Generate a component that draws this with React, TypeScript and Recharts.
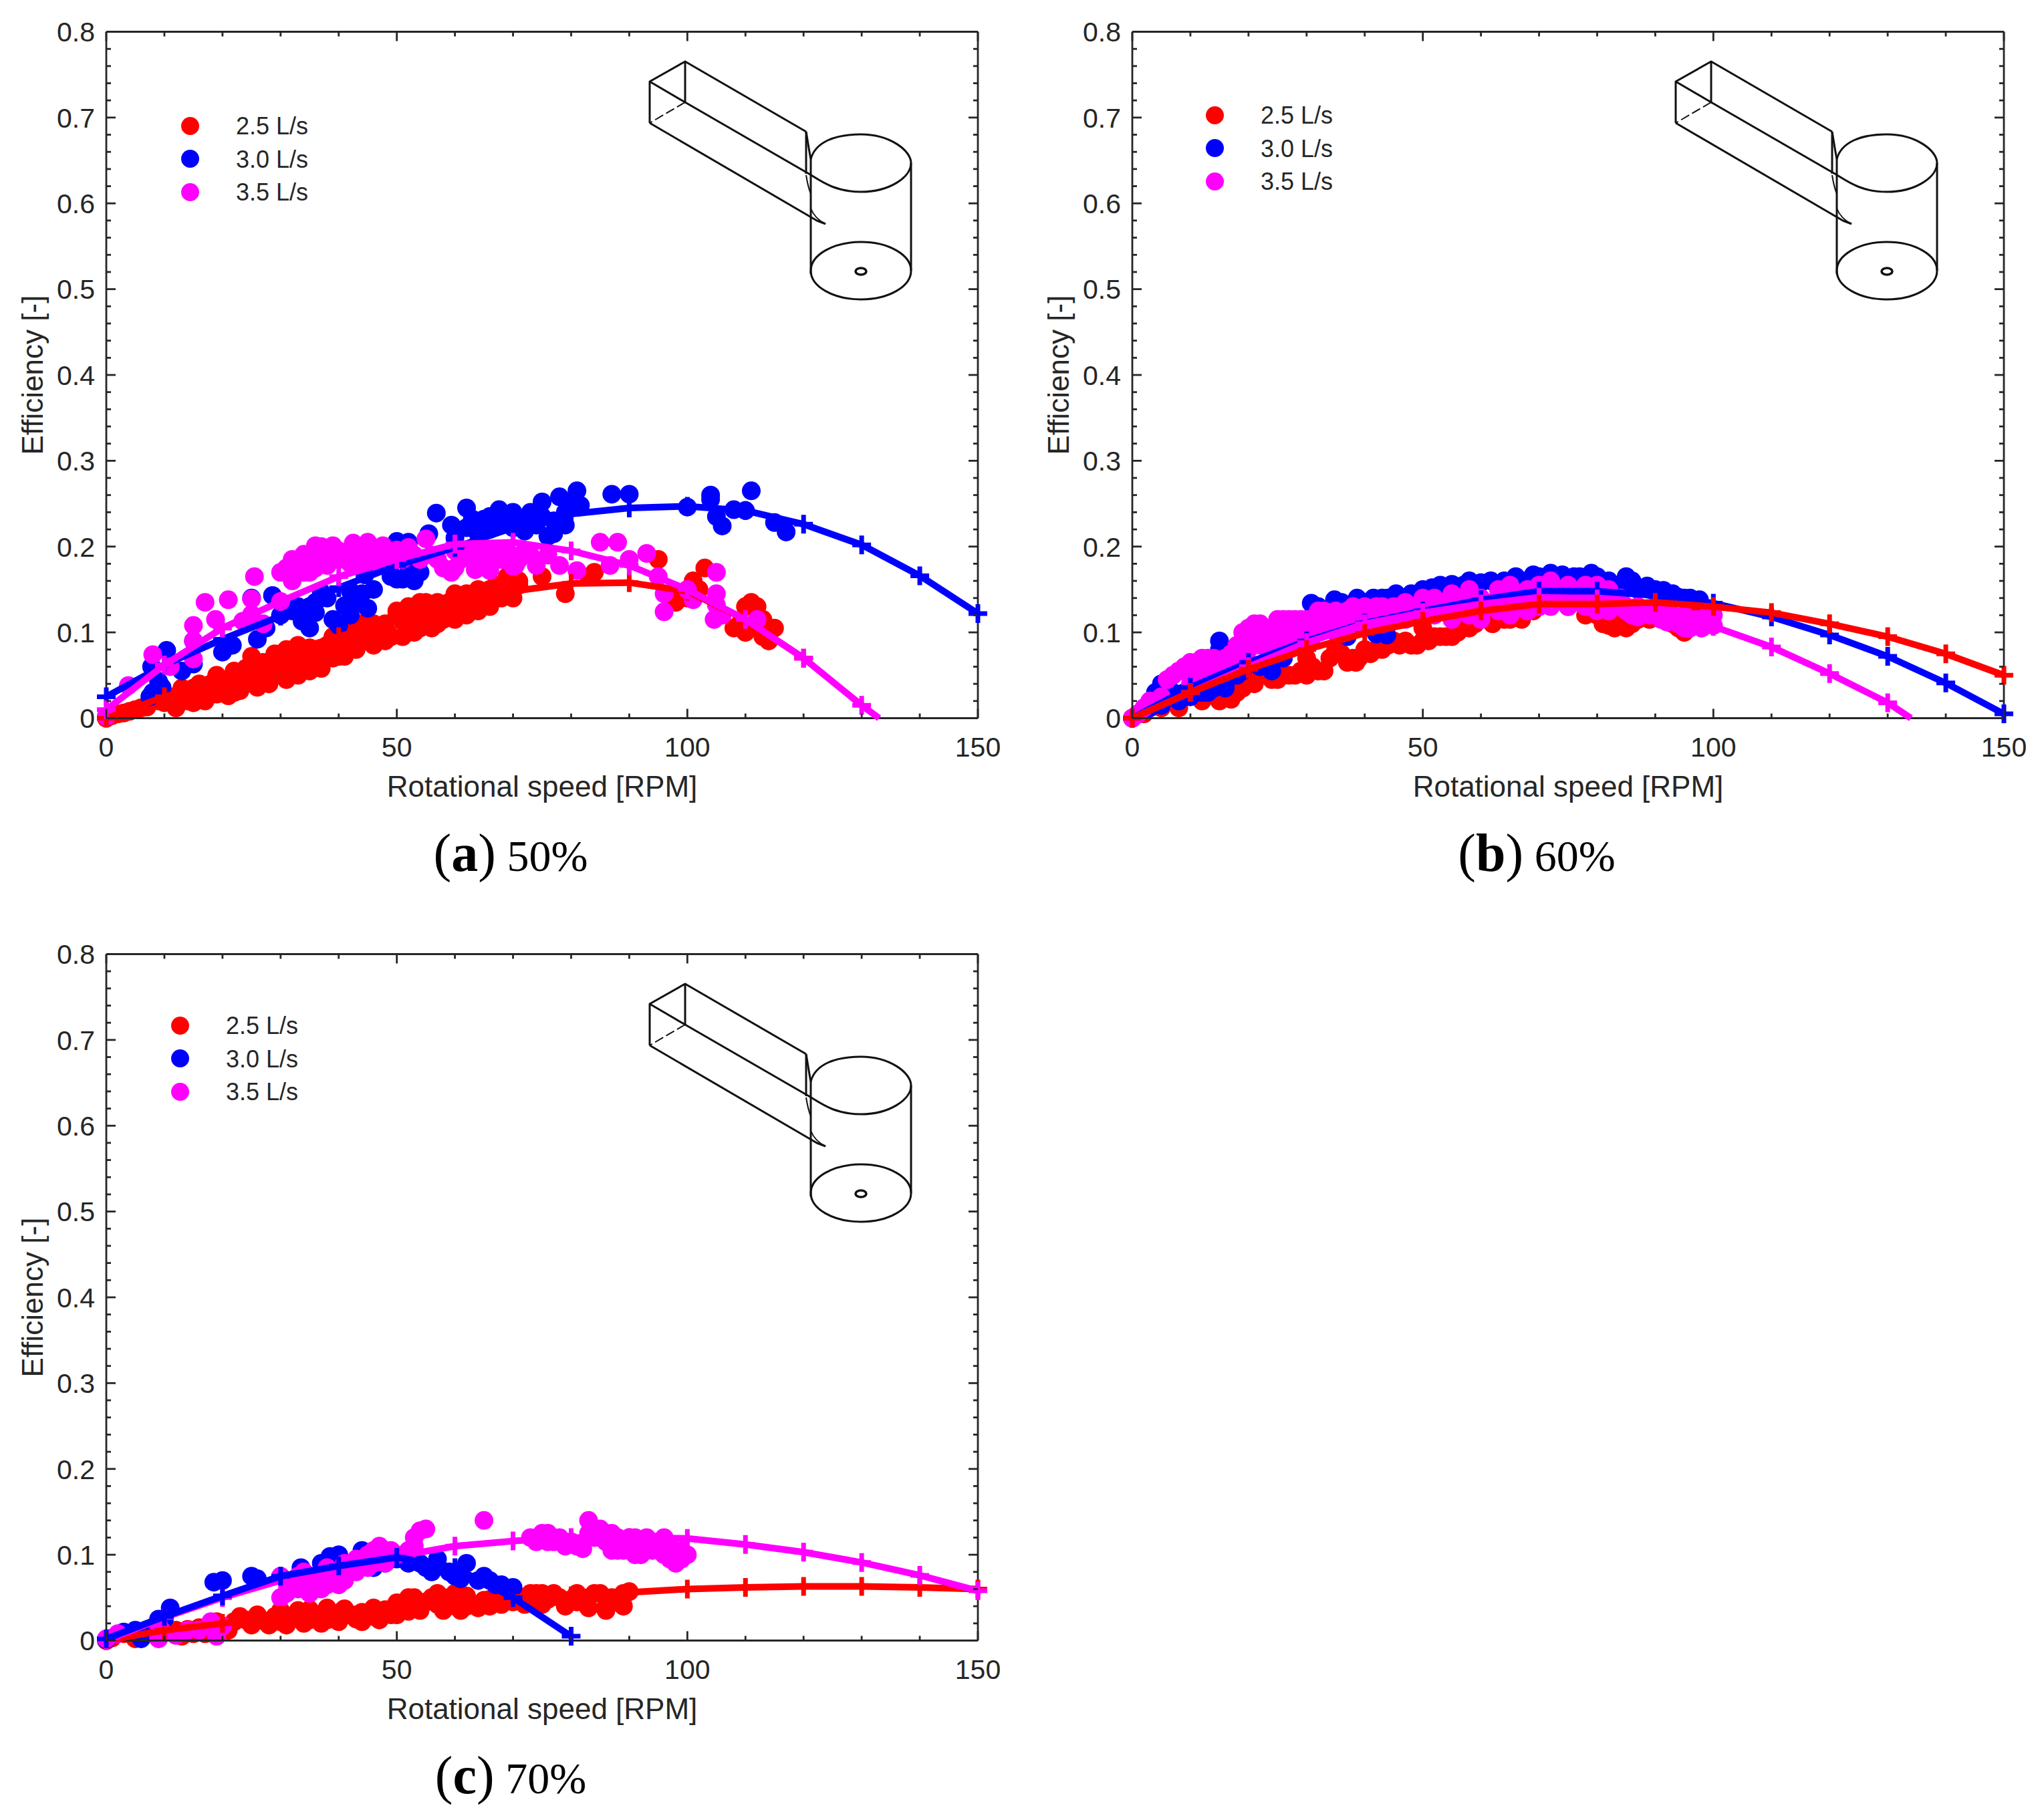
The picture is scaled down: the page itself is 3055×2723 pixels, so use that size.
import React from "react";
import { ComposedChart, Scatter, Line, XAxis, YAxis, Legend } from "recharts";

type Pair = [number, number];

const RED = "#ff0000";
const BLUE = "#0000ff";
const MAGENTA = "#ff00ff";
const INK = "#262626";
const FONT = "'Liberation Sans', Arial, sans-serif";

const flowNames = ["2.5 L/s", "3.0 L/s", "3.5 L/s"];
const xTicks = [0, 10, 20, 30, 40, 50, 60, 70, 80, 90, 100, 110, 120, 130, 140, 150];
const yTicks = [0, 0.02, 0.04, 0.06, 0.08, 0.1, 0.12, 0.14, 0.16, 0.18, 0.2, 0.22, 0.24, 0.26, 0.28, 0.3, 0.32, 0.34, 0.36, 0.38, 0.4, 0.42, 0.44, 0.46, 0.48, 0.5, 0.52, 0.54, 0.56, 0.58, 0.6, 0.62, 0.64, 0.66, 0.68, 0.7, 0.72, 0.74, 0.76, 0.78, 0.8];
const axisCorners = [{ x: 0, y: 0 }, { x: 150, y: 0.8 }];

// Panel (a) 50%
const dotsA25: Pair[] = [[0,0],[1,.003],[2,.005],[3,.006],[4,.008],[5,.01],[6,.012],[7,.013],[9,.02],[10,.018],[11,.025],[12,.024],[13,.022],[14,.02],[15,.035],[16,.028],[17,.022],[18,.04],[19,.04],[20,.03],[21,.045],[22,.03],[23,.05],[24,.04],[25,.055],[25,.072],[26,.05],[27,.045],[28,.05],[29,.06],[30,.055],[30,.075],[31,.06],[32,.07],[33,.065],[34,.08],[35,.07],[36,.072],[37,.068],[38,.085],[40,.08],[40,.072],[41,.09],[42,.095],[43,.105],[44,.09],[45,.105],[45,.09],[46,.1],[47,.09],[48,.105],[49,.095],[50,.12],[51,.115],[52,.125],[53,.12],[54,.105],[55,.115],[55,.135],[56,.125],[57,.11],[58,.12],[59,.135],[60,.125],[61,.14],[62,.13],[63,.125],[64,.145],[65,.135],[66,.15],[67,.14],[68,.155],[69,.16],[70,.14],[70,.16],[71,.16],[75,.165],[79,.145],[83,.165],[84,.17],[95,.185],[97,.145],[98,.135],[100,.14],[101,.16],[102,.15],[103,.175],[108,.105],[109,.11],[110,.13],[111,.135],[112,.13],[113,.115],[114,.09],[115,.105],[113,.095],[110,.1],[112,.11],
[12,.012],[15,.018],[17,.02],[19,.028],[21,.026],[23,.032],[26,.036],[28,.04],[31,.045],[33,.05],[35,.055],[37,.058],[39,.07],[41,.072],[43,.08],[46,.085],[48,.09],[51,.095],[53,.1],[56,.105],[58,.115],[60,.115],[62,.12],[64,.125],[66,.13],[68,.14],
[13,.035],[16,.04],[19,.05],[22,.055],[24,.058],[27,.065],[29,.075],[31,.08],[33,.085],[35,.082],[37,.08],[39,.095],[42,.105],[44,.11],[46,.11],[48,.11],[50,.125],[52,.13],[54,.135],[57,.135],[60,.145],[62,.145],[64,.15],[67,.155],[69,.165],[71,.155]];
const dotsA30: Pair[] = [[7.5,.025],[8,.03],[9.6,.036],[7.8,.06],[10.4,.079],[9,.043],[13,.055],[15,.063],[15,.09],[20,.077],[21.7,.085],[26,.092],[27.5,.105],[25,.14],[28.6,.143],[30,.12],[33.7,.113],[35,.105],[36,.123],[37,.147],[41,.131],[45,.128],[40,.108],[42,.148],[44.5,.167],[49,.165],[50,.162],[51,.162],[52.7,.162],[54,.17],[50,.206],[52,.205],[55.5,.215],[56.8,.239],[59.4,.225],[60,.21],[62,.245],[62,.222],[64,.215],[65,.232],[66,.22],[67.6,.243],[68,.225],[70,.24],[70,.222],[72,.218],[72.6,.232],[74,.225],[75,.252],[76,.212],[77,.23],[78,.258],[79,.24],[80,.252],[81,.265],[81.6,.248],[87,.261],[90,.261],[100,.246],[104,.26],[104,.255],[105,.235],[106,.224],[108,.243],[111,.265],[110,.242],[115,.228],[117,.217],
[31,.13],[32,.125],[33,.13],[34,.12],[35,.13],[36,.135],[38,.14],[39,.115],[42,.12],[43,.135],[44,.145],[46,.15],[63,.232],[66,.235],[69,.232],[71,.23],[73,.24],[75,.235],[77,.215],[79,.225],[52,.17],[53,.16]];
const dotsA35: Pair[] = [[0,.002],[3.8,.038],[8,.074],[11,.06],[15,.069],[15,.108],[15,.09],[18.8,.115],[17,.135],[21,.138],[23.5,.113],[25,.139],[25.5,.165],[25,.121],[27,.11],[30,.17],[30,.136],[32,.16],[34,.191],[35,.17],[36,.201],[37,.19],[38,.178],[39,.201],[40,.185],[42.5,.204],[42,.18],[45,.205],[44,.185],[47.6,.201],[47,.18],[50,.196],[52,.199],[55,.209],[54,.185],[57,.185],[59.4,.17],[60,.195],[62,.19],[63.5,.173],[65,.19],[66,.172],[68,.185],[70,.177],[70.4,.178],[72,.195],[74,.178],[76,.19],[78,.178],[81,.172],[85,.205],[88,.205],[86.7,.178],[90,.185],[93,.192],[95,.165],[96,.145],[96,.124],[100,.15],[101,.138],[105,.17],[105,.145],[105,.132],[104.6,.115],[106,.12],[112,.115],
[31,.175],[32,.185],[33,.18],[34,.17],[35,.185],[36,.175],[37,.2],[38,.195],[39,.185],[40,.195],[41,.19],[43,.195],[44,.2],[46,.195],[46,.185],[48,.19],[49,.185],[51,.185],[53,.19],[56,.19],[58,.175],[60,.175],[61,.185],[63,.185],[64,.195],[66,.185],[67,.195],[69,.195],[71,.185],[73,.19]];
const lineA25: Pair[] = [[0,0],[10,.025],[20,.045],[30,.075],[40,.095],[50,.115],[60,.13],[70,.148],[80,.157],[90,.158],[100,.148],[110,.115],[120,.07]];
const lineA30: Pair[] = [[0,.025],[10,.062],[20,.092],[30,.119],[40,.152],[50,.178],[60,.199],[70,.222],[80,.238],[90,.245],[100,.247],[110,.242],[120,.226],[130,.202],[140,.166],[150,.122]];
const lineA35: Pair[] = [[0,.01],[10,.062],[20,.105],[30,.136],[40,.165],[50,.185],[60,.203],[70,.205],[80,.195],[90,.178],[100,.15],[110,.115],[120,.07],[130,.015],[133,0]];

// Panel (b) 60%
const dotsB25: Pair[] = [[0,0],[2,.005],[5,.012],[8,.012],[10,.025],[12,.02],[14,.03],[17,.022],[18,.03],[20,.05],[22,.05],[23,.055],[25,.045],[27,.05],[29,.055],[30,.07],[33,.055],[35,.08],[36,.075],[38,.07],[38.5,.065],[40,.08],[42,.08],[44,.085],[45,.09],[47,.09],[50,.09],[50,.105],[52,.095],[54,.095],[56,.1],[57,.11],[60,.115],[63,.12],[67,.115],[68,.125],[70,.13],[72,.135],[75,.13],[76,.135],[78,.12],[80,.12],[81,.11],[82,.108],[84,.125],[85,.105],[86,.11],[88,.12],[90,.13],[94,.105],[95,.1],[96,.11],[97,.12],
[15,.02],[16,.025],[19,.035],[21,.04],[24,.045],[26,.05],[28,.05],[30,.05],[31,.06],[32,.055],[34,.07],[37,.065],[39,.07],[41,.075],[43,.08],[46,.085],[48,.085],[49,.085],[51,.09],[53,.095],[55,.095],[58,.105],[59,.11],[61,.115],[62,.11],[64,.115],[65,.115],[66,.12],[69,.125],[83,.105],[84,.11],[87,.115],[89,.115],[93,.11],[95,.105]];
const dotsB30: Pair[] = [[1,.005],[3,.012],[4,.03],[5,.04],[6,.03],[7,.03],[9,.03],[13,.03],[15,.08],[15,.09],[16,.04],[18,.05],[20,.065],[22,.06],[24,.055],[26,.07],[28,.085],[30.8,.134],[34.8,.138],[35,.1],[37,.095],[38.7,.14],[41.5,.14],[42,.098],[43.8,.097],[45.4,.145],[48,.145],[51.6,.152],[55,.156],[58,.16],[61.7,.16],[66,.165],[69,.167],[72,.169],[74,.167],[76,.165],[79,.169],[82,.16],[85,.165],[85.5,.155],[88.6,.154],[91.4,.149],[94,.141],[97.6,.138],
[5,.015],[8,.02],[10,.025],[12,.03],[14,.035],[16,.035],[19,.055],[32,.13],[33,.125],[36,.135],[37,.13],[40,.135],[43,.14],[44,.14],[47,.14],[50,.15],[53,.155],[56,.15],[57,.155],[60,.158],[63,.155],[64,.16],[67,.16],[70,.165],[71,.16],[73,.165],[75,.16],[77,.165],[78,.16],[80,.165],[83,.155],[86,.16],[87,.15],[89,.15],[90,.15],[92,.145],[93,.145],[95,.14],[96,.14]];
const dotsB35: Pair[] = [[0,0],[1,.005],[2,.012],[3,.02],[5,.025],[6,.045],[7,.05],[8,.055],[9,.06],[10,.065],[10,.04],[11,.065],[12,.07],[12,.05],[13,.07],[14,.07],[15,.065],[15,.06],[17,.075],[18,.085],[19,.1],[19,.07],[20,.105],[20,.08],[21,.11],[22,.11],[22,.085],[23,.1],[24,.105],[25,.115],[25,.09],[26,.115],[27,.115],[28,.115],[28,.09],[29,.115],[30,.115],[30,.095],[32,.125],[33,.125],[33,.105],[35,.125],[36,.105],[37,.125],[38,.13],[40,.13],[40,.11],[42,.13],[43,.13],[45,.13],[45,.115],[47,.135],[50,.14],[50,.12],[52,.14],[55,.145],[55,.115],[58,.15],[60,.14],[60,.115],[63,.15],[65,.155],[65,.12],[68,.15],[70,.155],[70,.13],[72,.16],[75,.155],[75,.13],[78,.155],[80,.155],[80,.125],[82,.15],[84,.14],[85,.13],[85,.125],[87,.13],[90,.125],[90,.12],[92,.125],[95,.12],[95,.105],[96,.105],[98,.105],[99,.12],[100,.108],
[11,.05],[13,.06],[14,.055],[16,.07],[17,.06],[18,.07],[19,.085],[21,.09],[23,.085],[24,.09],[26,.1],[27,.095],[29,.1],[31,.105],[32,.11],[34,.115],[35,.11],[37,.115],[39,.12],[41,.12],[42,.115],[44,.12],[46,.125],[48,.13],[49,.13],[51,.13],[53,.13],[54,.135],[56,.13],[57,.14],[59,.135],[61,.13],[62,.135],[64,.14],[66,.14],[67,.13],[69,.145],[71,.145],[73,.145],[74,.14],[76,.145],[77,.14],[79,.14],[81,.14],[83,.135],[86,.12],[88,.125],[89,.12],[91,.115],[93,.12],[94,.11],[97,.11],
[38,.105],[43,.11],[47,.115],[52,.12],[58,.12],[63,.125],[68,.125],[72,.13],[78,.13],[82,.125],[84,.13],[87,.118],[92,.112],[27,.085],[31,.095],[35,.1],[97,.115],[100,.12]];
const lineB25: Pair[] = [[0,0],[10,.03],[20,.057],[30,.08],[40,.099],[50,.113],[60,.125],[70,.133],[80,.133],[90,.135],[100,.13],[110,.123],[120,.11],[130,.095],[140,.075],[150,.05]];
const lineB30: Pair[] = [[0,0],[10,.036],[20,.065],[30,.09],[40,.111],[50,.125],[60,.138],[70,.148],[80,.148],[90,.143],[100,.134],[110,.118],[120,.097],[130,.072],[140,.041],[150,.005]];
const lineB35: Pair[] = [[0,0],[10,.03],[20,.06],[30,.088],[40,.11],[50,.123],[60,.133],[70,.141],[80,.139],[90,.128],[100,.107],[110,.083],[120,.052],[130,.018],[134,0]];

// Panel (c) 70%
const dotsC25: Pair[] = [[0,0],[1,.003],[3,.008],[5,.002],[6,.007],[8,.008],[10,.01],[12,.012],[14,.013],[16,.015],[18,.018],[20,.017],[22,.022],[24,.024],[26,.025],[27,.023],[29,.028],[30,.022],[32,.028],[34,.025],[35,.024],[36,.03],[38,.024],[39,.032],[40,.03],[42,.03],[43,.03],[44,.033],[45,.028],[46,.028],[47,.034],[48,.036],[50,.044],[51,.04],[52,.05],[53,.05],[55,.045],[56,.05],[57,.042],[58,.05],[59,.05],[60,.044],[61,.045],[62,.052],[63,.043],[65,.047],[66,.048],[67,.05],[68,.052],[70,.06],[71,.05],[72,.05],[73,.055],[74,.045],[75,.055],[76,.048],[78,.05],[80,.048],[81,.055],[82,.045],[83,.05],[85,.055],[86,.04],[87,.05],[88,.05],[89,.055],[90,.057],
[13,.005],[15,.008],[17,.008],[19,.022],[21,.012],[23,.028],[25,.018],[26,.03],[28,.018],[30,.035],[31,.018],[33,.035],[34,.02],[35,.036],[37,.02],[38,.038],[40,.022],[41,.037],[43,.025],[44,.022],[46,.038],[47,.024],[49,.03],[50,.03],[52,.034],[54,.035],[57,.055],[58,.035],[59,.04],[60,.055],[61,.035],[62,.04],[64,.038],[66,.04],[68,.042],[70,.045],[72,.042],[74,.055],[75,.042],[77,.055],[79,.04],[81,.045],[83,.038],[84,.055],[86,.035],[88,.045],[89,.04]];
const dotsC30: Pair[] = [[0,.001],[3,.01],[5,.012],[6,.002],[7,.01],[9,.025],[10,.025],[11,.038],[18.5,.068],[20,.07],[25,.075],[26,.072],[33.5,.085],[34,.08],[37,.09],[38,.09],[38.5,.098],[40,.1],[42,.09],[44,.105],[45,.1],[46,.085],[48,.09],[50,.095],[52,.09],[53,.105],[54,.09],[55,.085],[56,.08],[57,.095],[59,.08],[60,.075],[61,.072],[62,.09],[64,.07],[65,.075],[66,.07],[67,.065],[68,.065],[70,.062]];
const dotsC35: Pair[] = [[0,.002],[2,.008],[9,.002],[9.5,.012],[9,.018],[12,.006],[14,.012],[16,.012],[18,.022],[19,.005],[20,.017],[30,.075],[30,.05],[31,.055],[33,.06],[34,.08],[35,.055],[36,.075],[37,.07],[38,.065],[39,.075],[40,.08],[41,.07],[42,.09],[43,.08],[45,.1],[46,.105],[47,.095],[48,.105],[49,.105],[53,.12],[54,.128],[55,.13],[65,.14],[73,.12],[75,.125],[76,.125],[78,.12],[80,.115],[82,.107],[83,.14],[84,.12],[85,.13],[86,.115],[87,.125],[88,.105],[90,.12],[91,.1],[92,.112],[93,.12],[94,.105],[95,.11],[96,.12],[97,.11],[98,.09],[99,.105],[100,.1],
[31,.07],[32,.07],[33,.075],[35,.075],[37,.06],[38,.085],[40,.065],[41,.09],[43,.095],[44,.09],[45,.085],[46,.09],[47,.11],[48,.09],[50,.1],[52,.105],[53,.11],[74,.115],[76,.115],[77,.115],[79,.11],[81,.11],[83,.125],[84,.13],[85,.12],[86,.125],[87,.105],[88,.12],[89,.105],[90,.105],[91,.12],[92,.1],[93,.105],[94,.115],[96,.1],[97,.095],[98,.1],[99,.095]];
const lineC25: Pair[] = [[0,0],[10,.012],[20,.02],[30,.03],[40,.033],[50,.043],[60,.047],[70,.05],[80,.052],[90,.056],[100,.06],[110,.062],[120,.063],[130,.063],[140,.062],[150,.06]];
const lineC30: Pair[] = [[0,.002],[10,.028],[20,.052],[30,.075],[40,.087],[50,.097],[60,.085],[70,.05],[80,.005]];
const lineC35: Pair[] = [[0,0],[10,.027],[20,.05],[30,.07],[40,.085],[50,.098],[60,.11],[70,.116],[80,.12],[90,.12],[100,.119],[110,.112],[120,.103],[130,.091],[140,.076],[150,.058]];

const toRows = (pairs: Pair[]) => pairs.map(([x, y]) => ({ x, y }));

const PANEL_W = 1530;
const PANEL_H = 1340;
const PLOT_LEFT = 159;
const PLOT_TOP = 47.5;
const PLOT_W = 1304;
const PLOT_H = 1027;
// each of the four axes takes 1px of the margin
const MARGIN = {
  left: PLOT_LEFT - 1,
  right: PANEL_W - PLOT_LEFT - PLOT_W - 1,
  top: PLOT_TOP - 1,
  bottom: PANEL_H - PLOT_TOP - PLOT_H - 1,
};

const MAJOR = 14;
const MINOR = 7;
const AXIS_W = 2.8;
const axisLine = { stroke: INK, strokeWidth: AXIS_W };

const TickV = ({ x, y, len }: { x: number; y: number; len: number }) => (
  <rect x={x - AXIS_W / 2} y={len < 0 ? y + len : y} width={AXIS_W} height={Math.abs(len)} fill={INK} stroke="none" />
);
const TickH = ({ x, y, len }: { x: number; y: number; len: number }) => (
  <rect x={len < 0 ? x + len : x} y={y - AXIS_W / 2} width={Math.abs(len)} height={AXIS_W} fill={INK} stroke="none" />
);

const xTickBottom = ({ x, y, payload }: any) => {
  const major = payload.value % 50 === 0;
  return (
    <g>
      <TickV x={x} y={y} len={major ? -MAJOR : -MINOR} />
      {major && (
        <text x={x} y={y + 43} dy="0.36em" textAnchor="middle" fontSize={41} fontFamily={FONT} fill={INK}>
          {payload.value}
        </text>
      )}
    </g>
  );
};
const xTickTop = ({ x, y, payload }: any) => {
  const major = payload.value % 50 === 0;
  return (
    <g>
      <TickV x={x} y={y} len={major ? MAJOR : MINOR} />
    </g>
  );
};
const isMajorY = (v: number) => Math.round(v * 100) % 10 === 0;
const yTickLeft = ({ x, y, payload }: any) => {
  const major = isMajorY(payload.value);
  return (
    <g>
      <TickH x={x} y={y} len={major ? MAJOR : MINOR} />
      {major && (
        <text x={x - 17} y={y} dy="0.36em" textAnchor="end" fontSize={41} fontFamily={FONT} fill={INK}>
          {payload.value === 0 ? "0" : payload.value.toFixed(1)}
        </text>
      )}
    </g>
  );
};
const yTickRight = ({ x, y, payload }: any) => {
  const major = isMajorY(payload.value);
  return (
    <g>
      <TickH x={x} y={y} len={major ? -MAJOR : -MINOR} />
    </g>
  );
};

const noDot = () => <g />;
const roundDot = (color: string) => (p: any) => <circle cx={p.cx} cy={p.cy} r={14} fill={color} />;
const crossDot = (color: string) => (p: any) => (
  <path
    d={`M${p.cx - 14} ${p.cy}H${p.cx + 14}M${p.cx} ${p.cy - 14}V${p.cy + 14}`}
    stroke={color}
    strokeWidth={7}
    fill="none"
  />
);

const Schematic = ({ dx, dy }: { dx: number; dy: number }) => (
  <svg style={{ position: "absolute", left: dx, top: dy, overflow: "visible" }} width={1} height={1}>
    <g fill="none" stroke="#111" strokeWidth={3} strokeLinejoin="round">
      <path d="M972 122L1025 92V153L972 122V184" />
      <path d="M1025 92L1206 197" />
      <path d="M1025 153L972 184" strokeDasharray="14 5" strokeWidth={2} />
      <path d="M1025 153L1205 257C1225 268 1245 287 1288 287" />
      <path d="M972 184L1222 330L1235 335" />
      <path d="M1213 312C1217 322 1225 330 1235 335" strokeWidth={2} />
      <path d="M1206 197V260" />
      <path d="M1206 197C1209 215 1211 228 1213 238" />
      <path d="M1206 262C1208 275 1211 285 1213 290" strokeWidth={2} />
      <path d="M1213 238C1220 212 1250 201 1288 201C1331 201 1363 225 1363 244C1363 265 1331 287 1288 287" />
      <path d="M1213 238V410" />
      <path d="M1363 244V405" />
      <ellipse cx={1288} cy={405} rx={75} ry={43} />
      <ellipse cx={1288} cy={406} rx={8} ry={5} strokeWidth={3.6} />
    </g>
  </svg>
);

type PanelProps = {
  left: number;
  top: number;
  dots: Pair[][];
  lines: Pair[][];
  lineOrder: number[];
  legendX: number;
  legendY: number;
  legendGap: number;
  letter: string;
  percent: string;
};

const colors = [RED, BLUE, MAGENTA];

const Panel = ({ left, top, dots, lines, lineOrder, legendX, legendY, legendGap, letter, percent }: PanelProps) => (
  <>
    <div style={{ position: "absolute", left, top }}>
      <ComposedChart width={PANEL_W} height={PANEL_H} margin={MARGIN}>
        <XAxis
          xAxisId={0}
          dataKey="x"
          type="number"
          domain={[0, 150]}
          ticks={xTicks}
          interval={0}
          height={1}
          tickSize={0}
          tickMargin={0}
          tickLine={false}
          tick={xTickBottom}
          axisLine={axisLine}
        />
        <XAxis
          xAxisId="top"
          orientation="top"
          dataKey="x"
          type="number"
          domain={[0, 150]}
          allowDataOverflow
          ticks={xTicks}
          interval={0}
          height={1}
          tickSize={0}
          tickMargin={0}
          tickLine={false}
          tick={xTickTop}
          axisLine={axisLine}
        />
        <YAxis
          yAxisId={0}
          dataKey="y"
          type="number"
          domain={[0, 0.8]}
          ticks={yTicks}
          interval={0}
          width={1}
          tickSize={0}
          tickMargin={0}
          tickLine={false}
          tick={yTickLeft}
          axisLine={axisLine}
        />
        <YAxis
          yAxisId="right"
          orientation="right"
          dataKey="y"
          type="number"
          domain={[0, 0.8]}
          allowDataOverflow
          ticks={yTicks}
          interval={0}
          width={1}
          tickSize={0}
          tickMargin={0}
          tickLine={false}
          tick={yTickRight}
          axisLine={axisLine}
        />
        <Legend
          layout="vertical"
          align="center"
          verticalAlign="middle"
          wrapperStyle={{ left: 0, top: 0, width: 0, height: 0, margin: 0 }}
          content={() => (
            <div style={{ position: "absolute", left: 0, top: 0 }}>
              {flowNames.map((name, i) => (
                <React.Fragment key={name}>
                  <div
                    style={{
                      position: "absolute",
                      left: legendX - 13.5,
                      top: legendY + i * legendGap - 13.5,
                      width: 27,
                      height: 27,
                      borderRadius: "50%",
                      background: colors[i],
                    }}
                  />
                  <div
                    style={{
                      position: "absolute",
                      left: legendX + 69,
                      top: legendY + i * legendGap - 21,
                      lineHeight: "44px",
                      fontSize: 36,
                      fontFamily: FONT,
                      color: INK,
                      whiteSpace: "nowrap",
                    }}
                  >
                    {name}
                  </div>
                </React.Fragment>
              ))}
            </div>
          )}
        />
        <Scatter
          xAxisId="top"
          yAxisId="right"
          data={axisCorners}
          shape={noDot}
          legendType="none"
          isAnimationActive={false}
        />
        {dots.map((series, i) => (
          <Scatter
            key={`dots-${i}`}
            name={flowNames[i]}
            data={toRows(series)}
            fill={colors[i]}
            shape={roundDot(colors[i])}
            zIndex={400 + i}
            legendType="none"
            isAnimationActive={false}
          />
        ))}
        {lineOrder.map((i, order) => (
          <Line
            key={`line-${i}`}
            name={flowNames[i]}
            data={toRows(lines[i])}
            dataKey="y"
            type="linear"
            stroke={colors[i]}
            strokeWidth={10}
            dot={false}
            activeDot={false}
            zIndex={500 + order * 2}
            legendType="none"
            isAnimationActive={false}
          />
        ))}
        {lineOrder.map((i, order) => (
          <Scatter
            key={`cross-${i}`}
            name={flowNames[i]}
            data={toRows(lines[i]).filter((r) => r.x % 10 === 0)}
            fill={colors[i]}
            shape={crossDot(colors[i])}
            zIndex={501 + order * 2}
            legendType="none"
            isAnimationActive={false}
          />
        ))}
      </ComposedChart>
      <div
        style={{
          position: "absolute",
          left: PLOT_LEFT,
          width: PLOT_W,
          top: 1155,
          lineHeight: "44px",
          fontSize: 44,
          fontFamily: FONT,
          color: INK,
          textAlign: "center",
        }}
      >
        Rotational speed [RPM]
      </div>
      <div
        style={{
          position: "absolute",
          left: 49,
          top: PLOT_TOP + PLOT_H / 2,
          transform: "translate(-50%, -50%) rotate(-90deg)",
          lineHeight: "44px",
          fontSize: 44,
          fontFamily: FONT,
          color: INK,
          whiteSpace: "nowrap",
        }}
      >
        Efficiency [-]
      </div>
      <div
        style={{
          position: "absolute",
          left: PLOT_LEFT - 47,
          width: PLOT_W,
          top: 1278,
          transform: "translateY(-50%)",
          fontFamily: "'Liberation Serif', serif",
          color: "#000",
          textAlign: "center",
          fontSize: 66,
          lineHeight: "80px",
          whiteSpace: "nowrap",
        }}
      >
        <span style={{ fontSize: 80 }}>
          (<b>{letter}</b>)
        </span>{" "}
        <span>{percent}</span>
      </div>
    </div>
    <Schematic dx={left} dy={top} />
  </>
);

export default function App() {
  return (
    <div style={{ position: "absolute", left: 0, top: 0, width: 3055, height: 2723, background: "#fff", overflow: "hidden" }}>
      <Panel
        left={0}
        top={0}
        dots={[dotsA25, dotsA30, dotsA35]}
        lines={[lineA25, lineA30, lineA35]}
        lineOrder={[0, 1, 2]}
        legendX={284}
        legendY={188}
        legendGap={49.7}
        letter="a"
        percent="50%"
      />
      <Panel
        left={1535}
        top={0}
        dots={[dotsB25, dotsB30, dotsB35]}
        lines={[lineB25, lineB30, lineB35]}
        lineOrder={[1, 2, 0]}
        legendX={282}
        legendY={172}
        legendGap={49.7}
        letter="b"
        percent="60%"
      />
      <Panel
        left={0}
        top={1380}
        dots={[dotsC25, dotsC30, dotsC35]}
        lines={[lineC25, lineC30, lineC35]}
        lineOrder={[0, 2, 1]}
        legendX={269}
        legendY={154}
        legendGap={49.7}
        letter="c"
        percent="70%"
      />
    </div>
  );
}
